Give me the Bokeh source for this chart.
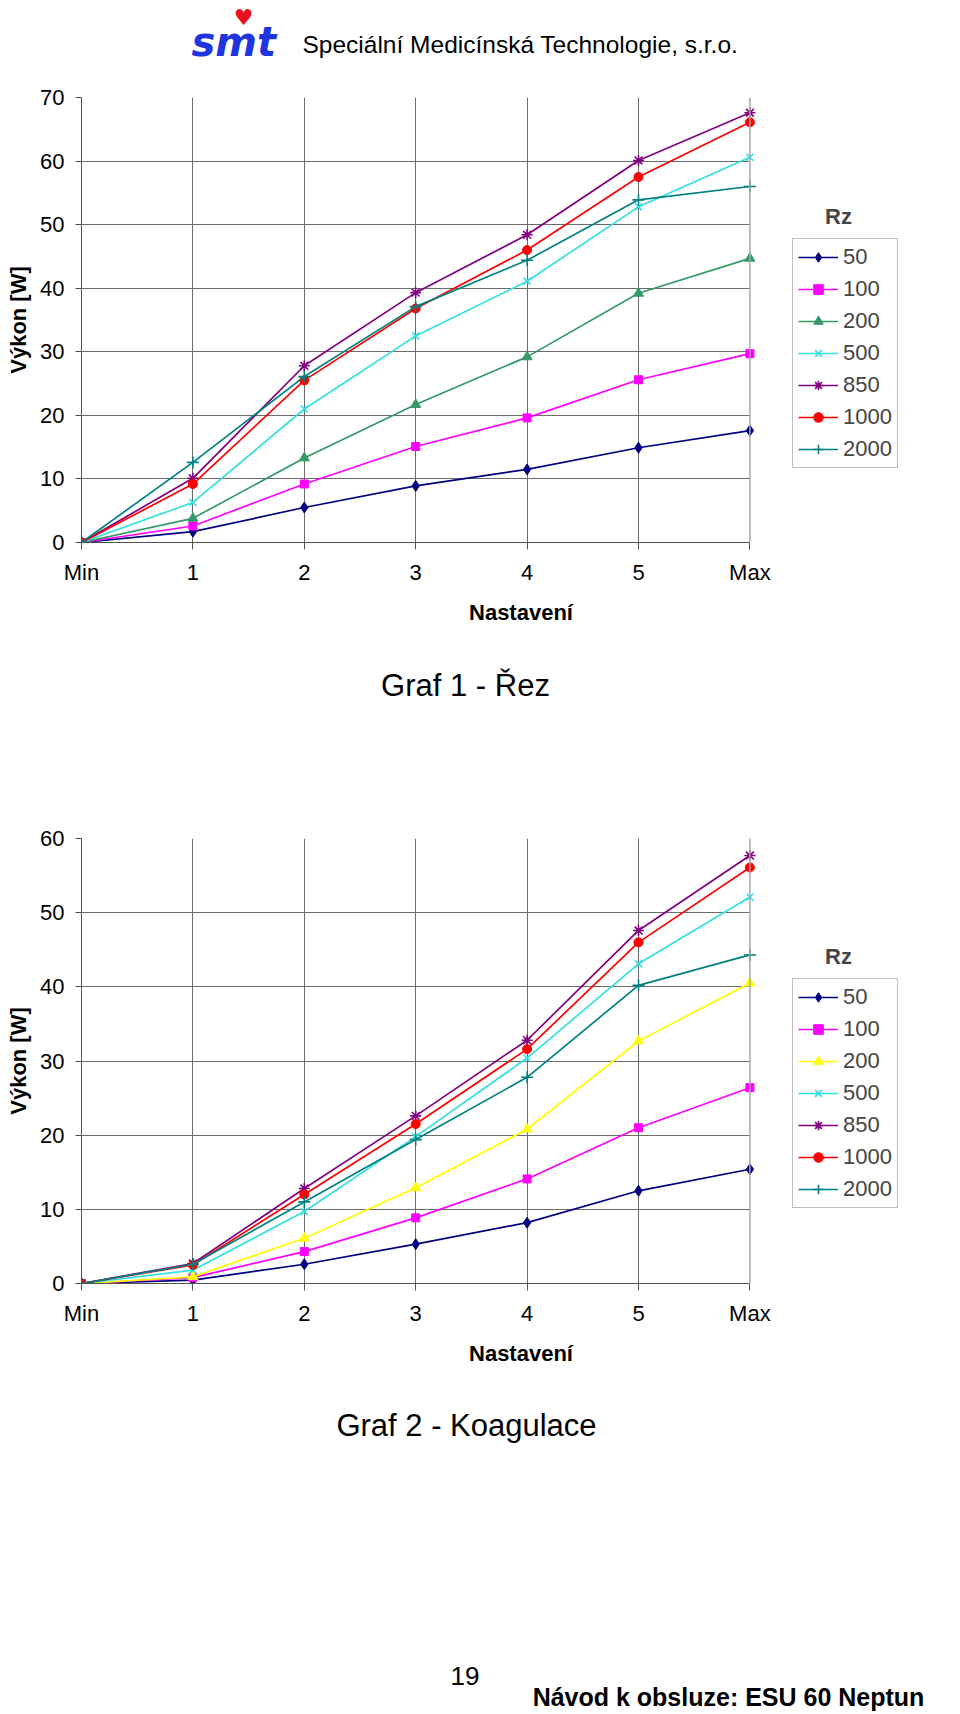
from bokeh.plotting import figure
from bokeh.models import Range1d, FixedTicker, Legend, LegendItem, Label, Span, Grid
from bokeh.layouts import column
from bokeh.embed import file_html
from bokeh.resources import INLINE
from bokeh.core.properties import value

# ---------------- data ----------------
settings = ["Min", "1", "2", "3", "4", "5", "Max"]
resistances = ["50", "100", "200", "500", "850", "1000", "2000"]

# Graf 1 - Řez  (Výkon [W])
cut_50 = [0, 1.7, 5.5, 8.9, 11.5, 14.9, 17.6]
cut_100 = [0, 2.6, 9.2, 15.1, 19.6, 25.6, 29.7]
cut_200 = [0, 3.8, 13.3, 21.7, 29.2, 39.2, 44.7]
cut_500 = [0, 6.3, 21.0, 32.5, 41.1, 52.8, 60.6]
cut_850 = [0, 10.1, 27.8, 39.3, 48.4, 60.1, 67.6]
cut_1000 = [0, 9.2, 25.5, 36.8, 46.0, 57.5, 66.1]
cut_2000 = [0, 12.6, 26.1, 37.1, 44.4, 53.9, 56.0]

# Graf 2 - Koagulace (Výkon [W])
coag_50 = [0, 0.45, 2.6, 5.3, 8.2, 12.5, 15.4]
coag_100 = [0, 0.8, 4.3, 8.85, 14.1, 21.0, 26.4]
coag_200 = [0, 0.9, 6.1, 12.9, 20.8, 32.7, 40.5]
coag_500 = [0, 1.8, 9.7, 19.8, 30.4, 43.1, 52.1]
coag_850 = [0, 2.7, 12.8, 22.6, 32.8, 47.6, 57.7]
coag_1000 = [0, 2.5, 12.0, 21.5, 31.6, 46.0, 56.1]
coag_2000 = [0, 2.6, 11.0, 19.4, 27.8, 40.2, 44.3]

cut_series = [cut_50, cut_100, cut_200, cut_500, cut_850, cut_1000, cut_2000]
coag_series = [coag_50, coag_100, coag_200, coag_500, coag_850, coag_1000, coag_2000]

# ---------------- styles ----------------
FONT = "Liberation Sans"
colors_cut = {"50": "#000080", "100": "#FF00FF", "200": "#339966", "500": "#33E0E0",
              "850": "#800080", "1000": "#FF0000", "2000": "#008080"}
colors_coag = dict(colors_cut)
colors_coag["200"] = "#FFFF00"
markers = {"50": ("diamond", 11, 1), "100": ("square", 8, 1), "200": ("triangle", 10, 1),
           "500": ("x", 10, 1.6), "850": ("asterisk", 11, 1.6), "1000": ("circle", 9, 1),
           "2000": ("cross", 12, 1.6)}

W = 960          # page width (Bokeh's page template has no body margin)
FL, FR = 81, 960  # common frame left / right (pixels); the column aligns the frames
DATA_PX = 668.4   # pixels between "Min" and "Max"
HAS_CROSS = "cross_bounds" in Grid.properties()


def text_fig(h):
    # frame spans FL..FR so that x data units equal page pixels
    f = figure(width=W, height=h, x_range=Range1d(FL, FR), y_range=Range1d(h, 0),
               output_backend="svg", toolbar_location=None,
               min_border=0, min_border_left=FL, min_border_right=W - FR,
               min_border_top=0, min_border_bottom=0)
    f.axis.visible = False
    f.grid.visible = False
    f.outline_line_color = None
    f.background_fill_color = "white"
    f.border_fill_color = "white"
    return f


def make_chart(series, colors, y_max, height, top, legend_y, rz_y):
    frame_h = 445
    n = len(settings) - 1
    x_end = n * (FR - FL) / DATA_PX
    p = figure(width=W, height=height, x_range=Range1d(0, x_end),
               y_range=Range1d(0, y_max), output_backend="svg", toolbar_location=None,
               min_border_left=FL, min_border_right=W - FR, min_border_top=top,
               min_border_bottom=height - top - frame_h)
    p.background_fill_color = "white"
    p.border_fill_color = "white"
    p.outline_line_color = None
    xs = list(range(len(settings)))
    y_ticks = list(range(0, y_max + 1, 10))
    p.xaxis.ticker = FixedTicker(ticks=xs)
    p.xaxis.bounds = (0, n)
    p.xaxis.major_label_overrides = {i: s for i, s in enumerate(settings)}
    p.yaxis.ticker = FixedTicker(ticks=y_ticks)
    p.xgrid.ticker = FixedTicker(ticks=xs[1:-1])
    p.grid.grid_line_color = "#6a6a6a"
    p.grid.grid_line_width = 1
    if HAS_CROSS:
        p.ygrid.ticker = FixedTicker(ticks=y_ticks)
        p.ygrid.cross_bounds = (0, n)
    else:
        p.ygrid.visible = False
        p.segment(x0=[0] * len(y_ticks), y0=y_ticks, x1=[n] * len(y_ticks), y1=y_ticks,
                  line_color="#6a6a6a", line_width=1)
    p.add_layout(Span(location=n, dimension="height", line_color="#a8a8a8", line_width=1.5))
    for ax in (p.xaxis[0], p.yaxis[0]):
        ax.axis_line_color = "#505050"
        ax.major_tick_line_color = "#505050"
        ax.minor_tick_line_color = None
        ax.major_tick_in = 0
        ax.major_tick_out = 6
        ax.major_label_text_font = FONT
        ax.major_label_text_font_size = "22px"
        ax.major_label_text_color = "black"
    p.yaxis.major_label_standoff = 11
    p.yaxis.axis_label = "Výkon [W]"
    p.yaxis.axis_label_text_font = FONT
    p.yaxis.axis_label_text_font_style = "bold"
    p.yaxis.axis_label_text_font_size = "22px"
    p.yaxis.axis_label_text_color = "black"
    p.yaxis.axis_label_standoff = 6
    p.xaxis.major_tick_out = 7
    p.xaxis.major_label_standoff = 10
    p.xaxis.axis_label = "Nastavení"
    p.xaxis.axis_label_text_font = FONT
    p.xaxis.axis_label_text_font_style = "bold"
    p.xaxis.axis_label_text_font_size = "22px"
    p.xaxis.axis_label_text_color = "black"
    p.xaxis.axis_label_standoff = 12

    items = []
    for name, vals in zip(resistances, series):
        c = colors[name]
        mk, sz, lw = markers[name]
        rl = p.line(xs, vals, line_color=c, line_width=1.7)
        rs = p.scatter(xs, vals, marker=mk, size=sz, fill_color=c, line_color=c, line_width=lw)
        items.append(LegendItem(label=name, renderers=[rl, rs]))

    leg = Legend(items=items, location=(711, legend_y), glyph_width=40, glyph_height=24,
                 label_standoff=5, padding=5, spacing=6, margin=0,
                 border_line_color="#808080", border_line_width=1,
                 background_fill_color="white", label_text_font=FONT,
                 label_text_font_size="22px", label_height=24)
    p.add_layout(leg)
    p.add_layout(Label(x=757, y=rz_y, x_units="screen", y_units="screen", text="Rz",
                       text_font=FONT, text_font_style="bold", text_font_size="22px",
                       text_align="center", text_baseline="middle"))
    return p


# ---------------- header (x in page pixels) ----------------
header = text_fig(72)
header.text(x=[191], y=[41], text=["smt"], text_font=value("DejaVu Sans"),
            text_font_style="bold italic", text_font_size="40px", text_color="#1f35e0",
            text_align="left", text_baseline="alphabetic")
header.text(x=[243], y=[17], text=["♥"], text_font=value("DejaVu Sans"),
            text_font_size="22px", text_color="#e8101c",
            text_align="center", text_baseline="middle")
header.text(x=[302], y=[44], text=["Speciální Medicínská Technologie, s.r.o."],
            text_font=value(FONT), text_font_size="24.5px", text_color="black",
            text_align="left", text_baseline="alphabetic")

chart1 = make_chart(cut_series, colors_cut, 70, 560, 25, 74, 326)

title1 = text_fig(108)
title1.text(x=[465], y=[53], text=["Graf 1 - Řez"], text_font=value(FONT),
            text_font_size="31px", text_color="black", text_align="center",
            text_baseline="middle")

chart2 = make_chart(coag_series, colors_coag, 60, 634, 98, 75, 327)

title2 = text_fig(100)
title2.text(x=[466], y=[51], text=["Graf 2 - Koagulace"], text_font=value(FONT),
            text_font_size="31px", text_color="black", text_align="center",
            text_baseline="middle")

footer = text_fig(240)
footer.text(x=[450], y=[201], text=["19"], text_font=value(FONT), text_font_size="26px",
            text_color="black", text_align="left", text_baseline="middle")
footer.text(x=[728], y=[222], text=["Návod k obsluze: ESU 60 Neptun"], text_font=value(FONT),
            text_font_style="bold", text_font_size="25px", text_color="black",
            text_align="center", text_baseline="alphabetic")

layout = column(header, chart1, title1, chart2, title2, footer, spacing=0)

open("out.html", "w").write(file_html(layout, INLINE))
